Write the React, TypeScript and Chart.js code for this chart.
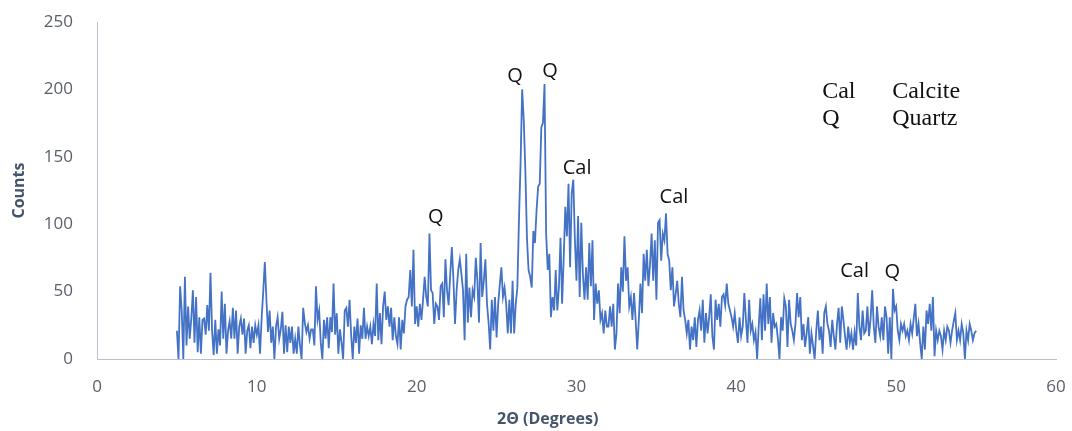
import React, { useEffect, useRef } from "react";
import { Chart, registerables } from "chart.js";

Chart.register(...registerables);

// 2θ sampling of the scan (degrees)
const START_DEG = 5;
const STEP_DEG = 0.1;

// Counts, one row per degree (x.0 ... x.9)
const counts: number[] = [
  21, 0, 54, 36, 0, 61, 10, 39, 15, 30, // 5
  51, 12, 46, 5, 31, 4, 29, 30, 18, 40, // 6
  21, 64, 21, 3, 29, 4, 22, 10, 50, 15, // 7
  41, 4, 21, 28, 15, 38, 15, 36, 4, 24, // 8
  30, 18, 30, 4, 21, 25, 8, 24, 12, 25, // 9
  18, 25, 4, 30, 50, 72, 44, 20, 36, 12, // 10
  24, 0, 24, 31, 15, 22, 35, 4, 25, 5, // 11
  24, 12, 24, 4, 15, 4, 24, 10, 0, 38, // 12
  27, 20, 25, 15, 22, 22, 10, 54, 29, 36, // 13
  12, 0, 29, 15, 31, 8, 31, 20, 56, 18, // 14
  34, 4, 22, 12, 0, 36, 38, 24, 44, 18, // 15
  0, 24, 12, 30, 4, 25, 15, 38, 15, 24, // 16
  17, 24, 11, 26, 17, 56, 14, 34, 11, 39, // 17
  50, 29, 39, 24, 38, 14, 31, 17, 11, 31, // 18
  7, 29, 19, 39, 44, 46, 66, 39, 81, 26, // 19
  39, 24, 41, 29, 44, 61, 46, 39, 93, 51, // 20
  49, 26, 41, 39, 29, 54, 56, 31, 74, 51, // 21
  40, 63, 83, 59, 26, 51, 66, 74, 63, 51, // 22
  14, 78, 27, 53, 31, 51, 46, 75, 58, 27, // 23
  86, 46, 58, 74, 41, 27, 7, 44, 21, 46, // 24
  16, 41, 55, 68, 46, 53, 41, 19, 44, 19, // 25
  58, 19, 41, 53, 103, 145, 200, 177, 140, 90, // 26
  66, 61, 53, 95, 86, 110, 128, 130, 172, 175, // 27
  204, 93, 66, 78, 31, 46, 36, 66, 36, 53, // 28
  90, 41, 75, 113, 91, 130, 68, 123, 133, 88, // 29
  58, 106, 46, 101, 63, 44, 68, 44, 86, 54, // 30
  88, 29, 56, 41, 51, 29, 34, 19, 36, 24, // 31
  24, 39, 24, 41, 7, 19, 56, 34, 68, 50, // 32
  91, 58, 68, 39, 46, 29, 49, 29, 7, 29, // 33
  56, 34, 78, 58, 81, 54, 70, 93, 58, 88, // 34
  44, 101, 103, 73, 93, 88, 108, 78, 73, 51, // 35
  68, 39, 48, 58, 41, 31, 61, 36, 29, 19, // 36
  29, 7, 24, 14, 31, 9, 29, 36, 21, 44, // 37
  12, 34, 19, 31, 48, 17, 7, 44, 29, 41, // 38
  24, 46, 48, 40, 56, 41, 36, 31, 24, 34, // 39
  21, 12, 31, 17, 24, 49, 29, 12, 44, 21, // 40
  26, 14, 20, 0, 24, 45, 14, 48, 21, 56, // 41
  26, 46, 12, 34, 24, 26, 15, 0, 31, 21, // 42
  45, 39, 9, 44, 26, 21, 14, 26, 49, 31, // 43
  46, 14, 26, 9, 19, 31, 4, 19, 10, 0, // 44
  21, 36, 14, 24, 4, 34, 39, 26, 21, 9, // 45
  29, 17, 7, 26, 38, 12, 39, 29, 17, 7, // 46
  24, 12, 19, 7, 20, 10, 49, 24, 14, 36, // 47
  19, 21, 39, 17, 30, 51, 24, 12, 39, 24, // 48
  17, 31, 14, 39, 31, 4, 31, 0, 52, 36, // 49
  39, 21, 14, 26, 21, 26, 17, 21, 14, 26, // 50
  19, 30, 41, 17, 26, 12, 0, 24, 7, 36, // 51
  26, 41, 21, 46, 2, 21, 14, 21, 17, 7, // 52
  21, 14, 24, 21, 12, 21, 28, 34, 14, 21, // 53
  14, 26, 19, 0, 21, 14, 26, 21, 14, 19, // 54
  21, // 55
];

const twoTheta: number[] = counts.map(
  (_, i) => Math.round((START_DEG + i * STEP_DEG) * 10) / 10
);

const X_MIN = 0;
const X_MAX = 60;
const X_STEP = 10;
const Y_MIN = 0;
const Y_MAX = 250;
const Y_STEP = 50;

const xTitle = "2Θ (Degrees)";
const yTitle = "Counts";

// Phase labels placed above peaks (anchored in data coordinates)
const peakLabelText = ["Q", "Q", "Cal", "Cal", "Q", "Cal", "Q"];
const peakLabelX = [26.16, 28.35, 30.04, 36.1, 21.2, 47.4, 49.75];
const peakLabelY = [210, 213.6, 141.7, 120, 105.3, 65.3, 64.5];

// Key of abbreviations
const keyCodes = ["Cal", "Q"];
const keyNames = ["Calcite", "Quartz"];
const keyCodeX = 45.37;
const keyNameX = 49.75;
const keyRowY = [193.6, 173.3];

const annotationsPlugin = {
  id: "xrdAnnotations",
  afterDraw(chart: any) {
    const { ctx, scales, chartArea } = chart;
    const xs = scales.x;
    const ys = scales.y;
    ctx.save();
    // Peak labels
    ctx.fillStyle = "#111111";
    ctx.font = '20px "Open Sans"';
    ctx.textAlign = "center";
    ctx.textBaseline = "middle";
    peakLabelText.forEach((t, i) => {
      ctx.fillText(t, xs.getPixelForValue(peakLabelX[i]), ys.getPixelForValue(peakLabelY[i]));
    });
    // Key
    ctx.font = '24px "Liberation Serif"';
    ctx.textAlign = "left";
    ctx.textBaseline = "alphabetic";
    keyCodes.forEach((c, i) => {
      const y = ys.getPixelForValue(keyRowY[i]);
      ctx.fillText(c, xs.getPixelForValue(keyCodeX), y);
      ctx.fillText(keyNames[i], xs.getPixelForValue(keyNameX), y);
    });
    // X axis title
    ctx.fillStyle = "#44546A";
    ctx.font = 'bold 16px "Open Sans"';
    ctx.textAlign = "center";
    ctx.textBaseline = "middle";
    ctx.fillText(xTitle, xs.getPixelForValue(28.2), chartArea.bottom + 60);
    ctx.restore();
  },
};

export default function App() {
  const canvasRef = useRef<HTMLCanvasElement | null>(null);

  useEffect(() => {
    if (!canvasRef.current) return;
    const points = twoTheta.map((x, i) => ({ x, y: counts[i] }));
    const chart = new Chart(canvasRef.current, {
      type: "line",
      data: {
        datasets: [
          {
            data: points,
            borderColor: "#4472C4",
            borderWidth: 1.8,
            pointRadius: 0,
            tension: 0,
            fill: false,
          },
        ],
      },
      options: {
        responsive: false,
        animation: false,
        devicePixelRatio: 1,
        layout: { padding: { left: 0, right: 16, top: 22, bottom: 0 } },
        plugins: {
          legend: { display: false },
          tooltip: { enabled: false },
        },
        scales: {
          x: {
            type: "linear",
            min: X_MIN,
            max: X_MAX,
            ticks: {
              stepSize: X_STEP,
              padding: 18,
              color: "#595f6b",
              font: { family: '"Open Sans"', size: 17 },
              maxRotation: 0,
            },
            grid: { display: true, drawOnChartArea: false, drawTicks: false },
            border: { display: true, color: "#b8c0d0", width: 1 },
            afterFit: (scale: any) => {
              scale.height = 72;
              scale.paddingLeft = 0;
              scale.paddingRight = 0;
            },
          },
          y: {
            type: "linear",
            min: Y_MIN,
            max: Y_MAX,
            ticks: {
              stepSize: Y_STEP,
              padding: 24,
              color: "#595f6b",
              font: { family: '"Open Sans"', size: 17 },
            },
            grid: { display: true, drawOnChartArea: false, drawTicks: false },
            border: { display: true, color: "#b8c0d0", width: 1 },
            title: {
              display: true,
              text: yTitle,
              color: "#44546A",
              font: { family: '"Open Sans"', size: 16, weight: "bold" },
              padding: { top: 10, bottom: 0 },
            },
            afterFit: (scale: any) => {
              scale.width = 97;
              scale.paddingTop = 0;
              scale.paddingBottom = 0;
            },
          },
        },
      },
      plugins: [annotationsPlugin],
    });
    return () => chart.destroy();
  }, []);

  return (
    <div style={{ position: "fixed", left: 0, top: 0, width: 1072, height: 431, background: "#ffffff" }}>
      <canvas ref={canvasRef} width={1072} height={431} />
    </div>
  );
}
